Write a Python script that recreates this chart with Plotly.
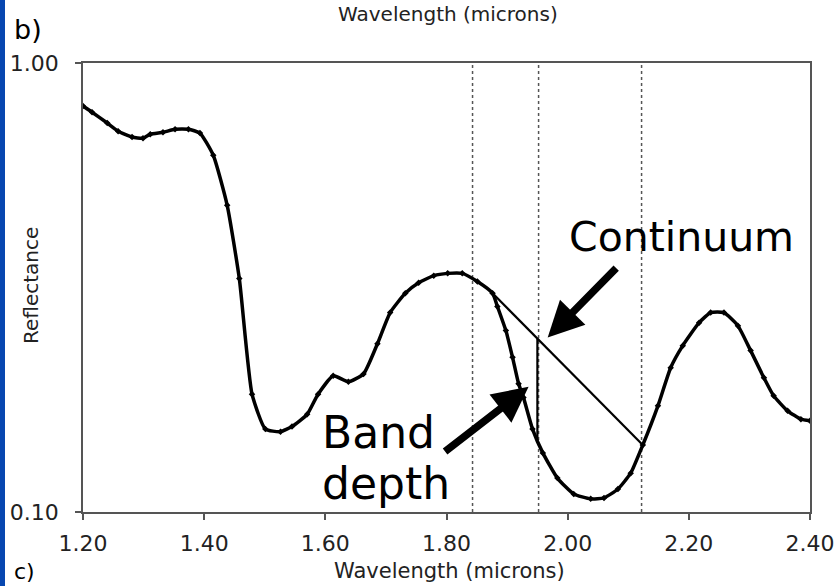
import numpy as np
import plotly.graph_objects as go

# Reflectance spectrum (wavelength in microns, reflectance on a log axis)
wavelength = [1.200, 1.215, 1.240, 1.258, 1.281, 1.299, 1.311, 1.332, 1.352, 1.374,
              1.393, 1.415, 1.438, 1.458, 1.479, 1.501, 1.526, 1.545, 1.570, 1.588,
              1.613, 1.638, 1.663, 1.686, 1.707, 1.732, 1.754, 1.779, 1.802, 1.826,
              1.851, 1.876, 1.884, 1.898, 1.909, 1.919, 1.927, 1.942, 1.959, 1.983,
              2.010, 2.038, 2.060, 2.083, 2.104, 2.124, 2.149, 2.170, 2.190, 2.217,
              2.236, 2.258, 2.281, 2.302, 2.324, 2.340, 2.363, 2.385, 2.400]
reflectance = [0.802, 0.777, 0.735, 0.705, 0.684, 0.680, 0.694, 0.701, 0.712, 0.712,
               0.698, 0.623, 0.482, 0.331, 0.183, 0.153, 0.151, 0.155, 0.165, 0.183,
               0.201, 0.195, 0.203, 0.237, 0.278, 0.307, 0.324, 0.336, 0.340, 0.340,
               0.326, 0.307, 0.287, 0.2535, 0.221, 0.193, 0.180, 0.153, 0.1354, 0.119,
               0.1097, 0.107, 0.1075, 0.1125, 0.122, 0.141, 0.1724, 0.2096, 0.2347, 0.264,
               0.278, 0.278, 0.260, 0.2288, 0.199, 0.1815, 0.168, 0.161, 0.1597]

# Continuum shoulders and band-centre position
continuum_start = 1.876
continuum_end = 2.124
band_center = 1.95
marker_lines = [1.843, 1.952, 2.122]

x_ticks = [1.20, 1.40, 1.60, 1.80, 2.00, 2.20, 2.40]
y_ticks = [0.10, 1.00]

wl = np.array(wavelength)
lr = np.log10(np.array(reflectance))


def refl_at(w):
    return 10 ** np.interp(w, wl, lr)


c0, c1 = refl_at(continuum_start), refl_at(continuum_end)
t = (band_center - continuum_start) / (continuum_end - continuum_start)
cont_at_center = 10 ** (np.log10(c0) + t * (np.log10(c1) - np.log10(c0)))
spec_at_center = refl_at(band_center)

FONT = "DejaVu Sans"
INK = "#222222"

fig = go.Figure()

fig.add_trace(go.Scatter(
    x=wavelength, y=reflectance, mode="lines+markers",
    line=dict(color="black", width=3.5, shape="spline", smoothing=0.5),
    marker=dict(color="black", size=5, symbol="diamond"),
    showlegend=False, hoverinfo="skip"))

fig.add_trace(go.Scatter(
    x=[continuum_start, continuum_end], y=[c0, c1], mode="lines",
    line=dict(color="black", width=2.2), showlegend=False, hoverinfo="skip"))

fig.add_trace(go.Scatter(
    x=[band_center, band_center], y=[cont_at_center, spec_at_center], mode="lines",
    line=dict(color="black", width=2.2), showlegend=False, hoverinfo="skip"))

shapes = []
for xv in marker_lines:
    shapes.append(dict(type="line", xref="x", yref="paper", x0=xv, x1=xv, y0=0, y1=1,
                       line=dict(color="#555555", width=1.5, dash="dot"), layer="below"))

# plot-area geometry in page pixels
L, R, T, B = 83, 30, 63, 74
PW, PH = 840 - L - R, 586 - T - B


def px(xp):
    return (xp - L) / PW


def py(yp):
    return (586 - B - yp) / PH


# page-edge stripe on the left
shapes.append(dict(type="rect", xref="paper", yref="paper",
                   x0=px(0), x1=px(5), y0=py(600), y1=py(-20),
                   fillcolor="#0747b0", line=dict(width=0), layer="above"))

annotations = [
    dict(x=1.967, y=-0.6116, xref="x", yref="y", text="", showarrow=True,
         ax=70, ay=-71, arrowhead=2, arrowwidth=7.5, arrowsize=0.95,
         arrowcolor="black", standoff=0),
    dict(x=1.9355, y=-0.721, xref="x", yref="y", text="", showarrow=True,
         ax=-85, ay=66, arrowhead=2, arrowwidth=7.5, arrowsize=0.95,
         arrowcolor="black", standoff=0),
    dict(x=px(567), y=py(237), xref="paper", yref="paper", text="Continuum",
         showarrow=False, xanchor="left", yanchor="middle",
         font=dict(family=FONT, size=41, color="black")),
    dict(x=px(320), y=py(432), xref="paper", yref="paper", text="Band",
         showarrow=False, xanchor="left", yanchor="middle",
         font=dict(family=FONT, size=44, color="black")),
    dict(x=px(320), y=py(483), xref="paper", yref="paper", text="depth",
         showarrow=False, xanchor="left", yanchor="middle",
         font=dict(family=FONT, size=44, color="black")),
    dict(x=px(12), y=py(29), xref="paper", yref="paper", text="b)",
         showarrow=False, xanchor="left", yanchor="middle",
         font=dict(family=FONT, size=27, color="black")),
    dict(x=px(12), y=py(586), xref="paper", yref="paper", text="c)",
         showarrow=False, xanchor="left", yanchor="bottom",
         font=dict(family=FONT, size=22, color="black")),
    dict(x=px(448), y=py(0), xref="paper", yref="paper", text="Wavelength (microns)",
         showarrow=False, xanchor="center", yanchor="top",
         font=dict(family=FONT, size=20, color=INK)),
    dict(x=px(449), y=py(571), xref="paper", yref="paper", text="Wavelength (microns)",
         showarrow=False, xanchor="center", yanchor="middle",
         font=dict(family=FONT, size=21, color=INK)),
    dict(x=px(31), y=py(286), xref="paper", yref="paper", text="Reflectance",
         showarrow=False, xanchor="center", yanchor="middle", textangle=-90,
         font=dict(family=FONT, size=20, color=INK)),
]

fig.update_layout(
    width=840, height=586,
    margin=dict(l=L, r=R, t=T, b=B, autoexpand=False),
    paper_bgcolor="white", plot_bgcolor="white",
    shapes=shapes, annotations=annotations,
    font=dict(family=FONT, color=INK),
    xaxis=dict(range=[1.2, 2.4], tickvals=x_ticks, tickformat=".2f",
               automargin=False, ticklabelstandoff=5,
               showgrid=False, zeroline=False, showline=True, mirror=True,
               linecolor="#555555", linewidth=1.5, ticks="outside", ticklen=6,
               tickcolor="#555555", tickwidth=1.5,
               tickfont=dict(family=FONT, size=22, color=INK)),
    yaxis=dict(type="log", range=[-1, 0], tickvals=y_ticks,
               ticktext=["0.10", "1.00"], automargin=False, ticklabelstandoff=12,
               showgrid=False, zeroline=False, showline=True, mirror=True,
               linecolor="#555555", linewidth=1.5, ticks="outside", ticklen=6,
               tickcolor="#555555", tickwidth=1.5,
               tickfont=dict(family=FONT, size=22, color=INK)),
)

fig.write_html("out.html")
